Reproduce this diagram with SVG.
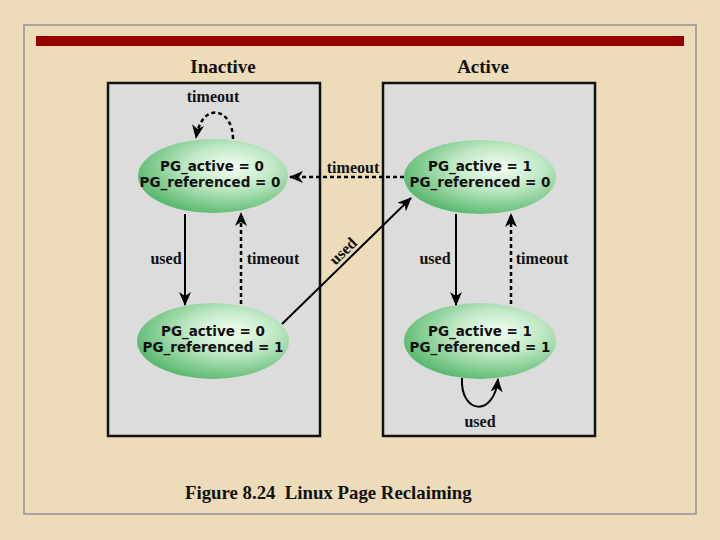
<svg xmlns="http://www.w3.org/2000/svg" width="720" height="540" viewBox="0 0 720 540">
<defs>
<radialGradient id="g" cx="62%" cy="38%" r="65%">
<stop offset="0" stop-color="#f4fff4"/>
<stop offset="0.45" stop-color="#bfe8c4"/>
<stop offset="1" stop-color="#5cba70"/>
</radialGradient>
<marker id="ah" viewBox="0 0 14 12" refX="13" refY="6" markerWidth="14" markerHeight="12" markerUnits="userSpaceOnUse" orient="auto">
<path d="M0,0 L14,6 L0,12 L4,6 z" fill="#000"/>
</marker>
<style>
.panel{fill:#dcdcdc;stroke:#111;stroke-width:2.5}
.st ellipse{fill:url(#g);stroke:none}
.st text{font-family:"DejaVu Sans",Verdana,sans-serif;font-weight:bold;font-size:13.5px;fill:#111;text-anchor:middle}
.lbl{font-family:"Liberation Serif","Times New Roman",serif;font-weight:bold;font-size:16px;fill:#111;text-anchor:middle}
.ttl{font-family:"Liberation Serif","Times New Roman",serif;font-weight:bold;font-size:19px;fill:#111;text-anchor:middle}
.cap{font-family:"Liberation Serif","Times New Roman",serif;font-weight:bold;font-size:18.8px;fill:#111}
.solid{fill:none;stroke:#000;stroke-width:2;marker-end:url(#ah)}
.dash{fill:none;stroke:#000;stroke-width:2.5;stroke-dasharray:4 3;marker-end:url(#ah)}
</style>
</defs>
<rect x="0" y="0" width="720" height="540" fill="#eddcb9"/>
<rect x="24" y="25" width="672" height="489" fill="none" stroke="#a8a4a0" stroke-width="2"/>
<rect x="36" y="36" width="648" height="10" fill="#990000"/>
<text class="ttl" x="223" y="73">Inactive</text>
<text class="ttl" x="483" y="73">Active</text>
<rect class="panel" x="108" y="83" width="212" height="353"/>
<rect class="panel" x="383" y="83" width="212" height="353"/>
<g id="s00" class="st"><ellipse cx="213" cy="176" rx="75" ry="37"/><text x="212" y="171">PG_active = 0</text><text x="210" y="187">PG_referenced = 0</text></g>
<g id="s10" class="st"><ellipse cx="480" cy="177" rx="76" ry="37"/><text x="480" y="171">PG_active = 1</text><text x="480" y="187">PG_referenced = 0</text></g>
<g id="s01" class="st"><ellipse cx="213" cy="341" rx="76" ry="38"/><text x="213" y="336">PG_active = 0</text><text x="213" y="352">PG_referenced = 1</text></g>
<g id="s11" class="st"><ellipse cx="480" cy="341" rx="76" ry="38"/><text x="480" y="336">PG_active = 1</text><text x="480" y="352">PG_referenced = 1</text></g>
<g id="connectors">
<path class="dash" d="M233,139 C233,108 202,100 196,138"/>
<path class="dash" d="M404,177 L290,177"/>
<path class="solid" d="M282,324 L411,198"/>
<path class="solid" d="M185,214 L185,305"/>
<path class="dash" d="M241,304 L241,213"/>
<path class="solid" d="M456,214 L456,305"/>
<path class="dash" d="M511,304 L511,214"/>
<path class="solid" d="M462,378 C460,414 494,418 498,379"/>
</g>
<g id="labels">
<text class="lbl" x="213" y="102">timeout</text>
<text class="lbl" x="353" y="173">timeout</text>
<text class="lbl" x="344" y="256" transform="rotate(-44 344 252)">used</text>
<text class="lbl" x="166" y="264">used</text>
<text class="lbl" x="273" y="264">timeout</text>
<text class="lbl" x="435" y="264">used</text>
<text class="lbl" x="542" y="264">timeout</text>
<text class="lbl" x="480" y="427">used</text>
</g>
<text class="cap" x="185" y="499" xml:space="preserve">Figure 8.24  Linux Page Reclaiming</text>
</svg>
